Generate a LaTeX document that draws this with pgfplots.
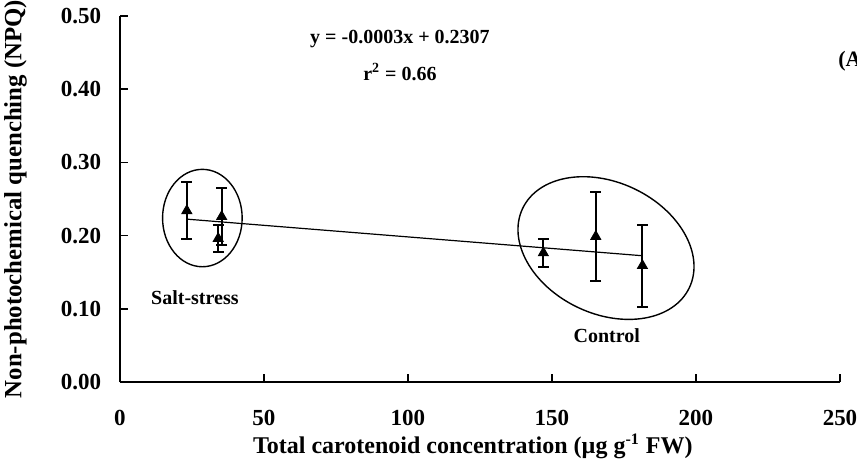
\documentclass[border=0pt]{standalone}
\usepackage{fontspec}
\setmainfont{Liberation Serif}
\usepackage{pgfplots}
\pgfplotsset{compat=1.18}
\usetikzlibrary{shapes.geometric}
\begin{document}
\begin{tikzpicture}
\begin{axis}[
  at={(0,0)}, anchor=south west,
  scale only axis, width=360pt, height=183pt,
  xmin=0, xmax=250, ymin=0, ymax=0.5,
  axis x line*=bottom, axis y line*=left,
  axis line style={line width=1pt},
  tick align=inside, major tick length=3.8pt,
  tick style={line width=0.8pt, black},
  xtick={0,50,100,150,200,250},
  ytick={0,0.1,0.2,0.3,0.4,0.5},
  /pgf/number format/assume math mode=true,
  tick label style={font=\bfseries\fontsize{11.5}{13}\selectfont, inner sep=0pt},
  yticklabel style={/pgf/number format/.cd, fixed, fixed zerofill, precision=2, /tikz/.cd, anchor=east, xshift=-9.2pt},
  xticklabel style={anchor=north, yshift=-14pt},
  xlabel={Total carotenoid concentration (µg g\textsuperscript{-1} FW)},
  ylabel={Non-photochemical quenching (NPQ)},
  every axis x label/.style={at={(axis description cs:0.49,-0.175)}, anchor=center, font=\bfseries\fontsize{12}{14}\selectfont},
  every axis y label/.style={at={(axis description cs:-0.145,0.5)}, anchor=center, rotate=90, font=\bfseries\fontsize{12.4}{14}\selectfont},
  clip=false,
]
% regression line
\addplot[black, line width=0.6pt, no marks] coordinates {(23.2,0.2225) (181.4,0.1725)};
% data with error bars
\addplot[only marks, mark=triangle*, mark size=2.9pt, black,
  error bars/.cd, y dir=both, y explicit,
  error bar style={line width=1pt, black},
  error mark options={rotate=90, mark size=2.7pt, line width=1pt, black}]
  coordinates {
  (23.2,0.234) +- (0,0.039)
  (35.3,0.226) +- (0,0.039)
  (34.1,0.196) +- (0,0.018)
  (147.0,0.1764) +- (0,0.019)
  (165.2,0.1988) +- (0,0.061)
  (181.4,0.159) +- (0,0.056)
  };
% ellipses
\node[draw, ellipse, line width=0.7pt, inner sep=0pt, minimum width=39.8pt, minimum height=48.7pt] at (axis cs:28.6,0.224) {};
\node[draw, ellipse, line width=0.7pt, inner sep=0pt, minimum width=92.3pt, minimum height=65.7pt, rotate=-25.4] at (axis cs:168.75,0.183) {};
% annotations
\node[font=\bfseries\fontsize{10}{12}\selectfont] at (axis cs:26,0.115) {Salt-stress};
\node[font=\bfseries\fontsize{10}{12}\selectfont] at (axis cs:169,0.064) {Control};
\node[font=\bfseries\fontsize{10}{12}\selectfont] at (axis cs:97.2,0.4686) {y = -0.0003x + 0.2307};
\node[font=\bfseries\fontsize{10}{12}\selectfont] at (axis cs:97.2,0.4235) {r\textsuperscript{2} = 0.66};
\end{axis}
\node[anchor=west, inner sep=0pt, font=\bfseries\fontsize{11}{13}\selectfont] at (359pt,160.5pt) {(A)};
\pgfresetboundingbox
\path (-60pt,-40.5pt) rectangle (368.5pt,191pt);
\end{tikzpicture}
\end{document}
